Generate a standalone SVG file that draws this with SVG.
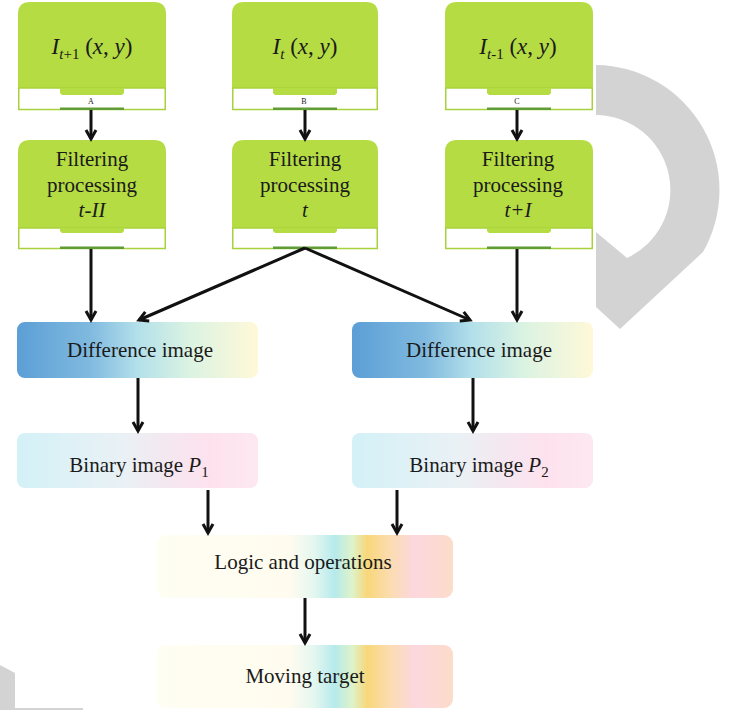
<svg xmlns="http://www.w3.org/2000/svg" width="732" height="710" viewBox="0 0 732 710">
  <defs>
    <linearGradient id="gDiff" x1="0" y1="0" x2="1" y2="0">
      <stop offset="0" stop-color="#5c9fd6"/>
      <stop offset="0.3" stop-color="#7fb9df"/>
      <stop offset="0.5" stop-color="#b3e0ea"/>
      <stop offset="0.72" stop-color="#dcf3e2"/>
      <stop offset="1" stop-color="#fff8d8"/>
    </linearGradient>
    <linearGradient id="gBin" x1="0" y1="0" x2="1" y2="0">
      <stop offset="0" stop-color="#d3f1f7"/>
      <stop offset="0.45" stop-color="#eaf1f5"/>
      <stop offset="0.6" stop-color="#f3e8f0"/>
      <stop offset="0.8" stop-color="#fde2ee"/>
      <stop offset="1" stop-color="#fde8f0"/>
    </linearGradient>
    <linearGradient id="gRainbow" x1="0" y1="0" x2="1" y2="0">
      <stop offset="0" stop-color="#fffef3"/>
      <stop offset="0.45" stop-color="#fffbef"/>
      <stop offset="0.53" stop-color="#e4f7ef"/>
      <stop offset="0.6" stop-color="#b6eaec"/>
      <stop offset="0.66" stop-color="#def3c9"/>
      <stop offset="0.71" stop-color="#f8d77a"/>
      <stop offset="0.79" stop-color="#fcdcb2"/>
      <stop offset="0.87" stop-color="#fcd7de"/>
      <stop offset="1" stop-color="#fcdcca"/>
    </linearGradient>
    <marker id="arrow" viewBox="0 0 12 12" refX="10" refY="6" markerWidth="12" markerHeight="12" markerUnits="userSpaceOnUse" orient="auto" overflow="visible">
      <path d="M1,1 L10,6 L1,11" fill="none" stroke="#111" stroke-width="3" stroke-linejoin="miter"/>
    </marker>
  </defs>
  <style>
    .green { fill: #b5dc43; }
    .band { fill: #ffffff; stroke: #a8d23c; stroke-width: 1.5; }
    .bar { fill: #5f9c35; }
    .serif { font-family: "Liberation Serif", "DejaVu Serif", serif; fill: #1a1a1a; }
    .lbl { font-size: 21px; text-anchor: middle; }
    .head { font-size: 23px; text-anchor: middle; }
    .sub { font-size: 15px; }
    .tiny { font-size: 8px; text-anchor: middle; }
    .it { font-style: italic; }
    .conn { stroke: #111; stroke-width: 3; fill: none; marker-end: url(#arrow); }
    .mark { fill: #d3d3d3; }
  </style>

  <rect width="732" height="710" fill="#ffffff"/>

  <!-- background mark -->
  <g id="mark">
    <path class="mark" d="M596,65 A125,125 0 0 1 703,252 L620,329 L596,307 L596,232 L627,258 A75,75 0 0 0 596,115 Z"/>
    <path class="mark" d="M0,665 L15,673 L15,708 L83,708 L83,710 L0,710 Z"/>
  </g>

  <!-- frame inputs -->
  <g id="frameA">
    <path class="green" d="M18,88 L18,14 Q18,2 30,2 L154,2 Q166,2 166,14 L166,88 Z"/>
    <rect class="band" x="18.75" y="88" width="146.5" height="21.5"/>
    <path class="green" d="M60,88 L124,88 L124,93 L122,95 L62,95 L60,93 Z"/>
    <rect class="bar" x="60" y="107.5" width="64" height="2.5"/>
    <text class="serif head" x="92" y="54"><tspan class="it">I</tspan><tspan class="it sub" dy="5">t</tspan><tspan class="sub">+1</tspan><tspan dy="-5"> (</tspan><tspan class="it">x</tspan>, <tspan class="it">y</tspan>)</text>
    <text class="serif tiny" x="91" y="104">A</text>
  </g>
  <g id="frameB">
    <path class="green" d="M232,88 L232,14 Q232,2 244,2 L366,2 Q378,2 378,14 L378,88 Z"/>
    <rect class="band" x="232.75" y="88" width="144.5" height="21.5"/>
    <path class="green" d="M273,88 L337,88 L337,93 L335,95 L275,95 L273,93 Z"/>
    <rect class="bar" x="273" y="107.5" width="64" height="2.5"/>
    <text class="serif head" x="305" y="54"><tspan class="it">I</tspan><tspan class="it sub" dy="5">t</tspan><tspan dy="-5"> (</tspan><tspan class="it">x</tspan>, <tspan class="it">y</tspan>)</text>
    <text class="serif tiny" x="304" y="104">B</text>
  </g>
  <g id="frameC">
    <path class="green" d="M445,88 L445,14 Q445,2 457,2 L581,2 Q593,2 593,14 L593,88 Z"/>
    <rect class="band" x="445.75" y="88" width="146.5" height="21.5"/>
    <path class="green" d="M487,88 L551,88 L551,93 L549,95 L489,95 L487,93 Z"/>
    <rect class="bar" x="487" y="107.5" width="64" height="2.5"/>
    <text class="serif head" x="518" y="54"><tspan class="it">I</tspan><tspan class="it sub" dy="5">t</tspan><tspan class="sub">-1</tspan><tspan dy="-5"> (</tspan><tspan class="it">x</tspan>, <tspan class="it">y</tspan>)</text>
    <text class="serif tiny" x="517" y="104">C</text>
  </g>

  <!-- filtering stages -->
  <g id="filterA">
    <path class="green" d="M18,228 L18,152 Q18,140 30,140 L154,140 Q166,140 166,152 L166,228 Z"/>
    <rect class="band" x="18.75" y="228" width="146.5" height="20.5"/>
    <path class="green" d="M60,228 L124,228 L124,231 L122,233 L62,233 L60,231 Z"/>
    <rect class="bar" x="60" y="246.5" width="64" height="2.5"/>
    <text class="serif lbl" x="92" y="166">Filtering</text>
    <text class="serif lbl" x="92" y="192">processing</text>
    <text class="serif lbl it" x="92" y="217">t-II</text>
  </g>
  <g id="filterB">
    <path class="green" d="M232,228 L232,152 Q232,140 244,140 L366,140 Q378,140 378,152 L378,228 Z"/>
    <rect class="band" x="232.75" y="228" width="144.5" height="20.5"/>
    <path class="green" d="M273,228 L337,228 L337,231 L335,233 L275,233 L273,231 Z"/>
    <rect class="bar" x="273" y="246.5" width="64" height="2.5"/>
    <text class="serif lbl" x="305" y="166">Filtering</text>
    <text class="serif lbl" x="305" y="192">processing</text>
    <text class="serif lbl it" x="305" y="217">t</text>
  </g>
  <g id="filterC">
    <path class="green" d="M445,228 L445,152 Q445,140 457,140 L581,140 Q593,140 593,152 L593,228 Z"/>
    <rect class="band" x="445.75" y="228" width="146.5" height="20.5"/>
    <path class="green" d="M487,228 L551,228 L551,231 L549,233 L489,233 L487,231 Z"/>
    <rect class="bar" x="487" y="246.5" width="64" height="2.5"/>
    <text class="serif lbl" x="518" y="166">Filtering</text>
    <text class="serif lbl" x="518" y="192">processing</text>
    <text class="serif lbl it" x="518" y="217">t+I</text>
  </g>

  <!-- difference images -->
  <g id="diff1">
    <rect x="17" y="322" width="241" height="56" rx="8" fill="url(#gDiff)"/>
    <text class="serif lbl" x="140" y="357">Difference image</text>
  </g>
  <g id="diff2">
    <rect x="352" y="322" width="241" height="56" rx="8" fill="url(#gDiff)"/>
    <text class="serif lbl" x="479" y="357">Difference image</text>
  </g>

  <!-- binary images -->
  <g id="bin1">
    <rect x="17" y="433" width="241" height="55" rx="8" fill="url(#gBin)"/>
    <text class="serif lbl" x="139" y="472">Binary image <tspan class="it">P</tspan><tspan class="sub" dy="5">1</tspan></text>
  </g>
  <g id="bin2">
    <rect x="352" y="433" width="241" height="55" rx="8" fill="url(#gBin)"/>
    <text class="serif lbl" x="479" y="472">Binary image <tspan class="it">P</tspan><tspan class="sub" dy="5">2</tspan></text>
  </g>

  <!-- logic and result -->
  <g id="logic">
    <rect x="157" y="535" width="296" height="63" rx="9" fill="url(#gRainbow)"/>
    <text class="serif lbl" x="303" y="569">Logic and operations</text>
  </g>
  <g id="target">
    <rect x="157" y="645" width="296" height="63" rx="9" fill="url(#gRainbow)"/>
    <text class="serif lbl" x="305" y="683">Moving target</text>
  </g>

  <!-- connectors -->
  <g id="connectors">
    <line class="conn" x1="91" y1="110" x2="91" y2="139"/>
    <line class="conn" x1="305" y1="110" x2="305" y2="139"/>
    <line class="conn" x1="517" y1="110" x2="517" y2="139"/>
    <line class="conn" x1="91" y1="249" x2="91" y2="320"/>
    <line class="conn" x1="305" y1="248" x2="139" y2="320"/>
    <line class="conn" x1="305" y1="248" x2="470" y2="320"/>
    <line class="conn" x1="517" y1="249" x2="517" y2="320"/>
    <line class="conn" x1="138" y1="378" x2="138" y2="431"/>
    <line class="conn" x1="473" y1="378" x2="473" y2="431"/>
    <line class="conn" x1="208" y1="490" x2="208" y2="533"/>
    <line class="conn" x1="397" y1="490" x2="397" y2="533"/>
    <line class="conn" x1="305" y1="598" x2="305" y2="643"/>
  </g>
</svg>
